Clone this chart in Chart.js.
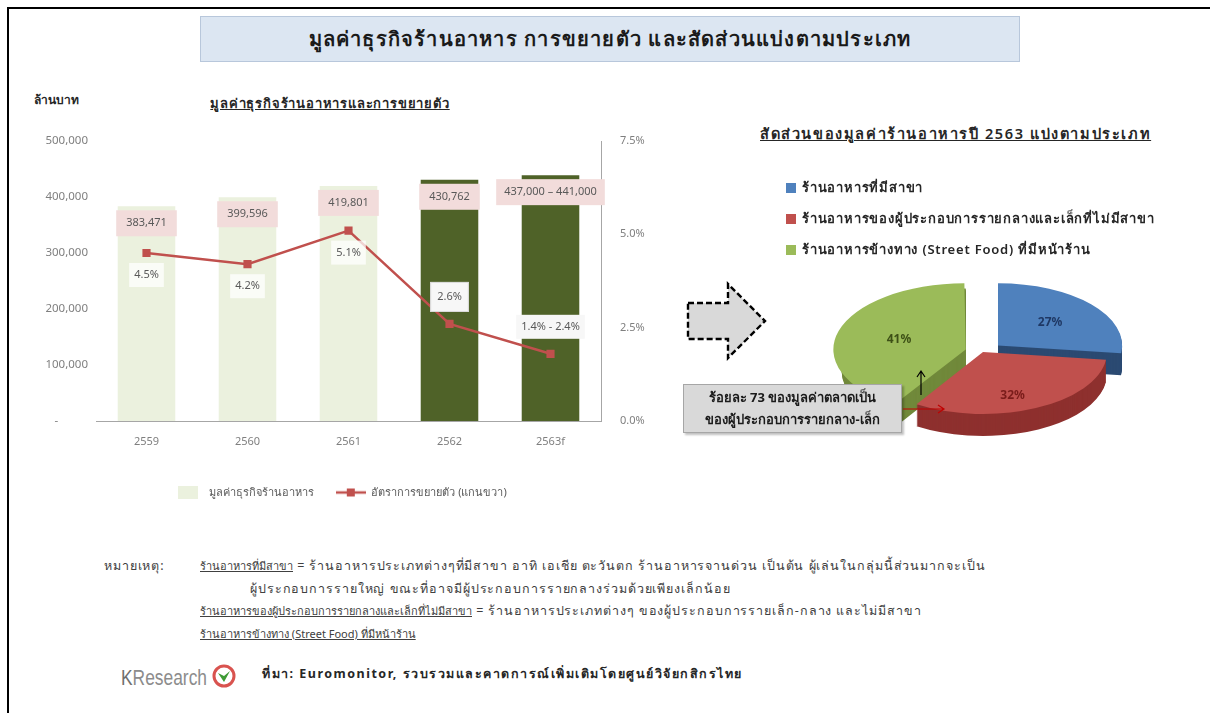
<!DOCTYPE html>
<html lang="th">
<head>
<meta charset="utf-8">
<script src="https://cdn.jsdelivr.net/npm/chart.js@4.4.1/dist/chart.umd.min.js"></script>
<style>
  html, body { margin: 0; padding: 0; background: #fff; }
  body { width: 1210px; height: 713px; position: relative; overflow: hidden;
         font-family: 'Noto Sans', 'DejaVu Sans', sans-serif; color: #262626; }
  .abs { position: absolute; }
  #frame { left: 7px; top: 7px; width: 1220px; height: 720px;
           border-left: 2px solid #000; border-top: 2px solid #000; }
  #mainTitle { left: 200px; top: 16px; width: 818px; height: 44px; line-height: 44px;
               background: #dce6f2; border: 1px solid #b8c7db; text-align: center;
               font-size: 20px; font-weight: 600; color: #1a1a1a; letter-spacing: 1.2px; }
  #unit { left: 34px; top: 90px; font-size: 12px; font-weight: 600; }
  #leftTitle { left: 170px; top: 93px; width: 320px; text-align: center; font-size: 13px;
               font-weight: 600; text-decoration: underline; letter-spacing: 0.8px; }
  #rightTitle { left: 760px; top: 122px; font-size: 14.5px; font-weight: 600;
                text-decoration: underline; letter-spacing: 1.6px; }
  #pieLegend { left: 786px; top: 176px; font-size: 13px; font-weight: 600; z-index: 2; letter-spacing: 0.8px; }
  #pieLegend div { height: 31px; line-height: 22px; white-space: nowrap; }
  #pieLegend span { display: inline-block; width: 10px; height: 10px; margin-right: 6px; vertical-align: -1px; }
  #callout { left: 683px; top: 384px; width: 217px; height: 46px; background: #d9d9d9;
             border: 1px solid #a6a6a6; box-shadow: 2px 2px 2px rgba(0,0,0,0.25);
             font-size: 13px; font-weight: 700; text-align: center; line-height: 22px;
             padding-top: 1px; z-index: 3; color: #1a1a1a; }
  #notes { left: 104px; top: 555px; font-size: 12.5px; color: #404040; line-height: 22.5px; letter-spacing: 0.9px; }
  #notes .row { white-space: nowrap; position: relative; height: 22.5px; }
  #notes u { font-size: 11px; letter-spacing: 0; }
  #source { left: 262px; top: 664px; font-size: 12.5px; font-weight: 700; color: #262626; letter-spacing: 1.5px; }
</style>
</head>
<body>
<div id="frame" class="abs"></div>
<div id="mainTitle" class="abs">มูลค่าธุรกิจร้านอาหาร การขยายตัว และสัดส่วนแบ่งตามประเภท</div>
<div id="unit" class="abs">ล้านบาท</div>
<div id="leftTitle" class="abs">มูลค่าธุรกิจร้านอาหารและการขยายตัว</div>

<div class="abs" style="left:20px; top:118px; width:640px; height:390px;">
  <canvas id="barChart" width="640" height="390"></canvas>
</div>

<div id="rightTitle" class="abs">สัดส่วนของมูลค่าร้านอาหารปี 2563 แบ่งตามประเภท</div>
<div id="pieLegend" class="abs"></div>

<svg class="abs" style="left:680px; top:278px;" width="95" height="85">
  <path d="M8 25 H48 V6 L85 43 L48 80 V61 H8 Z" fill="#d9d9d9" stroke="#000" stroke-width="2.4" stroke-dasharray="6 3"/>
</svg>

<div class="abs" style="left:823px; top:192px; width:320px; height:320px;">
  <canvas id="pieChart" width="320" height="320"></canvas>
</div>

<div id="callout" class="abs">ร้อยละ 73 ของมูลค่าตลาดเป็น<br>ของผู้ประกอบการรายกลาง-เล็ก</div>
<svg class="abs" style="left:895px; top:360px; z-index:4;" width="60" height="60">
  <path d="M26 35 V12 M22 17 L26 11 L30 17" fill="none" stroke="#000" stroke-width="1.2"/>
  <path d="M8 49 H48 M43 45 L49 49 L43 53" fill="none" stroke="#c00000" stroke-width="1.2"/>
</svg>

<div id="notes" class="abs">
  <div class="row"><span style="position:absolute;left:0">หมายเหตุ:</span><span style="position:absolute;left:96px"><u>ร้านอาหารที่มีสาขา</u> = ร้านอาหารประเภทต่างๆที่มีสาขา อาทิ เอเชีย ตะวันตก ร้านอาหารจานด่วน เป็นต้น ผู้เล่นในกลุ่มนี้ส่วนมากจะเป็น</span></div>
  <div class="row"><span style="position:absolute;left:146px">ผู้ประกอบการรายใหญ่ ขณะที่อาจมีผู้ประกอบการรายกลางร่วมด้วยเพียงเล็กน้อย</span></div>
  <div class="row"><span style="position:absolute;left:96px"><u>ร้านอาหารของผู้ประกอบการรายกลางและเล็กที่ไม่มีสาขา</u> = ร้านอาหารประเภทต่างๆ ของผู้ประกอบการรายเล็ก-กลาง และไม่มีสาขา</span></div>
  <div class="row"><span style="position:absolute;left:96px"><u>ร้านอาหารข้างทาง (Street Food) ที่มีหน้าร้าน</u></span></div>
</div>

<svg class="abs" style="left:118px; top:658px;" width="125" height="38">
  <text x="3" y="27" font-family="Liberation Sans Narrow, Liberation Sans, Arial, sans-serif" font-size="22" fill="#8c8c8c"
        textLength="86" lengthAdjust="spacingAndGlyphs"><tspan fill="#6f6f6f">K</tspan>Research</text>
  <circle cx="106" cy="18" r="10" fill="#fff" stroke="#d9534f" stroke-width="3"/>
  <path d="M100 15 L106 24 L112 13 L106 18 Z" fill="#3e9b35"/>
</svg>
<div id="source" class="abs">ที่มา: Euromonitor, รวบรวมและคาดการณ์เพิ่มเติมโดยศูนย์วิจัยกสิกรไทย</div>

<script>
const FONT = "'Noto Sans', 'DejaVu Sans', sans-serif";

// ---- left chart data ----
const years = ['2559', '2560', '2561', '2562', '2563f'];
const marketValue = [383471, 399596, 419801, 430762, 439000];
const valueLabels = ['383,471', '399,596', '419,801', '430,762', '437,000 – 441,000'];
const growthRate = [4.5, 4.2, 5.1, 2.6, 1.8];
const growthLabels = ['4.5%', '4.2%', '5.1%', '2.6%', '1.4% - 2.4%'];
const barColors = ['#ebf1de', '#ebf1de', '#ebf1de', '#4f6228', '#4f6228'];
const seriesNames = ['มูลค่าธุรกิจร้านอาหาร', 'อัตราการขยายตัว (แกนขวา)'];

// ---- pie data ----
const pieLabels = ['ร้านอาหารที่มีสาขา', 'ร้านอาหารของผู้ประกอบการรายกลางและเล็กที่ไม่มีสาขา', 'ร้านอาหารข้างทาง (Street Food) ที่มีหน้าร้าน'];
const pieShares = [27, 32, 41];
const pieColors = ['#4f81bd', '#c0504d', '#9bbb59'];
const pieSideColors = ['#2b4a72', '#8e302e', '#71893b'];
const pieTextColors = ['#1f3864', '#7a1c1a', '#3d5016'];
const pieOffsets = [80, 0, 72];

const RED = '#c0504d';

// legend swatches drawn as small images
function swatch(w, h, draw) {
  const c = document.createElement('canvas');
  c.width = w; c.height = h;
  draw(c.getContext('2d'));
  return c;
}
const barSwatch = swatch(20, 13, g => { g.fillStyle = '#ebf1de'; g.fillRect(0, 0, 20, 13); });
const lineSwatch = swatch(30, 10, g => {
  g.strokeStyle = RED; g.lineWidth = 2.5;
  g.beginPath(); g.moveTo(0, 5); g.lineTo(30, 5); g.stroke();
  g.fillStyle = RED; g.fillRect(11, 1, 8, 8);
});

const barLabels = {
  id: 'barLabels',
  afterDatasetDraw(chart, args) {
    if (args.index !== 0) return;
    const ctx = chart.ctx;
    ctx.save();
    ctx.font = '11px ' + FONT;
    ctx.textAlign = 'center';
    ctx.textBaseline = 'middle';
    args.meta.data.forEach((bar, i) => {
      const text = valueLabels[i];
      const w = Math.max(ctx.measureText(text).width + 16, bar.width + 3);
      const h = 26, top = bar.y + 4;
      ctx.fillStyle = '#f2dcdb';
      ctx.fillRect(bar.x - w / 2, top, w, h);
      ctx.fillStyle = '#595959';
      ctx.fillText(text, bar.x, top + h / 2);
    });
    ctx.restore();
  },
  afterDatasetsDraw(chart) {
    const ctx = chart.ctx;
    const meta = chart.getDatasetMeta(1);
    ctx.save();
    ctx.font = '11px ' + FONT;
    ctx.textAlign = 'center';
    ctx.textBaseline = 'middle';
    meta.data.forEach((pt, i) => {
      const text = growthLabels[i];
      const below = i < 3;
      const cy = below ? pt.y + 22 : pt.y - 27;
      const w = ctx.measureText(text).width + (i === 3 ? 14 : 10);
      const h = i === 3 ? 30 : 24;
      ctx.fillStyle = i >= 3 ? '#f7f7f7' : 'rgba(255,255,255,0.75)';
      ctx.fillRect(pt.x - w / 2, cy - h / 2, w, h);
      if (i === 3) {
        ctx.strokeStyle = '#d9d9d9';
        ctx.lineWidth = 1;
        ctx.strokeRect(pt.x - w / 2 + 0.5, cy - h / 2 + 0.5, w - 1, h - 1);
      }
      ctx.fillStyle = '#595959';
      ctx.fillText(text, pt.x, cy);
    });
    ctx.restore();
  }
};

new Chart(document.getElementById('barChart'), {
  type: 'bar',
  data: {
    labels: years,
    datasets: [
      {
        label: seriesNames[0],
        data: marketValue,
        backgroundColor: barColors,
        barPercentage: 0.57,
        categoryPercentage: 1,
        yAxisID: 'y',
        order: 1
      },
      {
        type: 'line',
        label: seriesNames[1],
        data: growthRate,
        borderColor: RED,
        backgroundColor: RED,
        borderWidth: 2.5,
        pointStyle: 'rect',
        pointRadius: 4,
        tension: 0,
        yAxisID: 'y1',
        order: 0
      }
    ]
  },
  options: {
    responsive: false,
    animation: false,
    layout: { padding: { top: 23, left: 0, right: 0, bottom: 0 } },
    scales: {
      x: {
        grid: { display: false, drawTicks: false },
        border: { color: '#a6a6a6' },
        ticks: { color: '#7f7f7f', font: { size: 11, family: FONT }, padding: 14 },
        afterFit: s => { s.height = 44; }
      },
      y: {
        position: 'left',
        min: 0, max: 500000,
        grid: { display: false, drawTicks: false },
        border: { display: false },
        ticks: {
          stepSize: 100000,
          color: '#7f7f7f',
          font: { size: 11.5, family: FONT },
          padding: 8,
          callback: v => v === 0 ? '-          ' : v.toLocaleString('en-US')
        },
        afterFit: s => { s.width = 76; }
      },
      y1: {
        position: 'right',
        min: 0, max: 7.5,
        grid: { display: false, drawOnChartArea: false, tickLength: 5, color: '#a6a6a6' },
        border: { color: '#a6a6a6' },
        ticks: {
          stepSize: 2.5,
          color: '#7f7f7f',
          font: { size: 11, family: FONT },
          padding: 14,
          callback: v => v.toFixed(1) + '%'
        },
        afterFit: s => { s.width = 59; }
      }
    },
    plugins: {
      tooltip: { enabled: false },
      legend: {
        position: 'bottom',
        labels: {
          color: '#595959',
          font: { size: 11, family: FONT },
          usePointStyle: true,
          pointStyleWidth: 30,
          padding: 22,
          sort: (a, b) => a.datasetIndex - b.datasetIndex,
          generateLabels: chart => Chart.defaults.plugins.legend.labels.generateLabels(chart)
            .map(item => Object.assign(item, { pointStyle: item.datasetIndex === 0 ? barSwatch : lineSwatch }))
        }
      }
    }
  },
  plugins: [barLabels]
});

// ---- pie: flattened with a side wall to look like the 3D original ----
const K = 0.5, DEPTH = 22;
const pie3d = {
  id: 'pie3d',
  beforeDatasetsDraw(chart) {
    const ctx = chart.ctx;
    const arcs = chart.getDatasetMeta(0).data;
    const cx = arcs[0].x, cy = arcs[0].y;
    ctx.save();
    ctx.translate(cx, cy); ctx.scale(1, K); ctx.translate(-cx, -cy);
    for (let d = DEPTH; d > 0; d--) {
      arcs.forEach((arc, i) => {
        const off = pieOffsets[i] / 4;
        const mid = (arc.startAngle + arc.endAngle) / 2;
        const x = arc.x + Math.cos(mid) * off;
        const y = arc.y + Math.sin(mid) * off + d / K;
        ctx.beginPath();
        ctx.moveTo(x, y);
        ctx.arc(x, y, arc.outerRadius, arc.startAngle, arc.endAngle);
        ctx.closePath();
        ctx.fillStyle = pieSideColors[i];
        ctx.fill();
      });
    }
  },
  afterDatasetsDraw(chart) {
    const ctx = chart.ctx;
    ctx.restore();
    const arcs = chart.getDatasetMeta(0).data;
    ctx.save();
    ctx.font = 'bold 12px ' + FONT;
    ctx.textAlign = 'center';
    ctx.textBaseline = 'middle';
    arcs.forEach((arc, i) => {
      const mid = (arc.startAngle + arc.endAngle) / 2;
      const r = arc.outerRadius * 0.56 + pieOffsets[i] / 4;
      const x = arc.x + Math.cos(mid) * r;
      const y = arc.y + Math.sin(mid) * r * K + (i === 1 ? 12 : 0);
      ctx.fillStyle = pieTextColors[i];
      ctx.fillText(pieShares[i] + '%', x, y);
    });
    ctx.restore();
  }
};

new Chart(document.getElementById('pieChart'), {
  type: 'pie',
  data: {
    labels: pieLabels,
    datasets: [{
      data: pieShares,
      backgroundColor: pieColors,
      borderWidth: 0,
      offset: pieOffsets
    }]
  },
  options: {
    responsive: false,
    animation: false,
    radius: 124,
    plugins: { legend: { display: false }, tooltip: { enabled: false } }
  },
  plugins: [pie3d]
});

// pie legend
const legendBox = document.getElementById('pieLegend');
pieLabels.forEach((label, i) => {
  const row = document.createElement('div');
  row.innerHTML = '<span style="background:' + pieColors[i] + '"></span>' + label;
  legendBox.appendChild(row);
});
</script>
</body>
</html>
